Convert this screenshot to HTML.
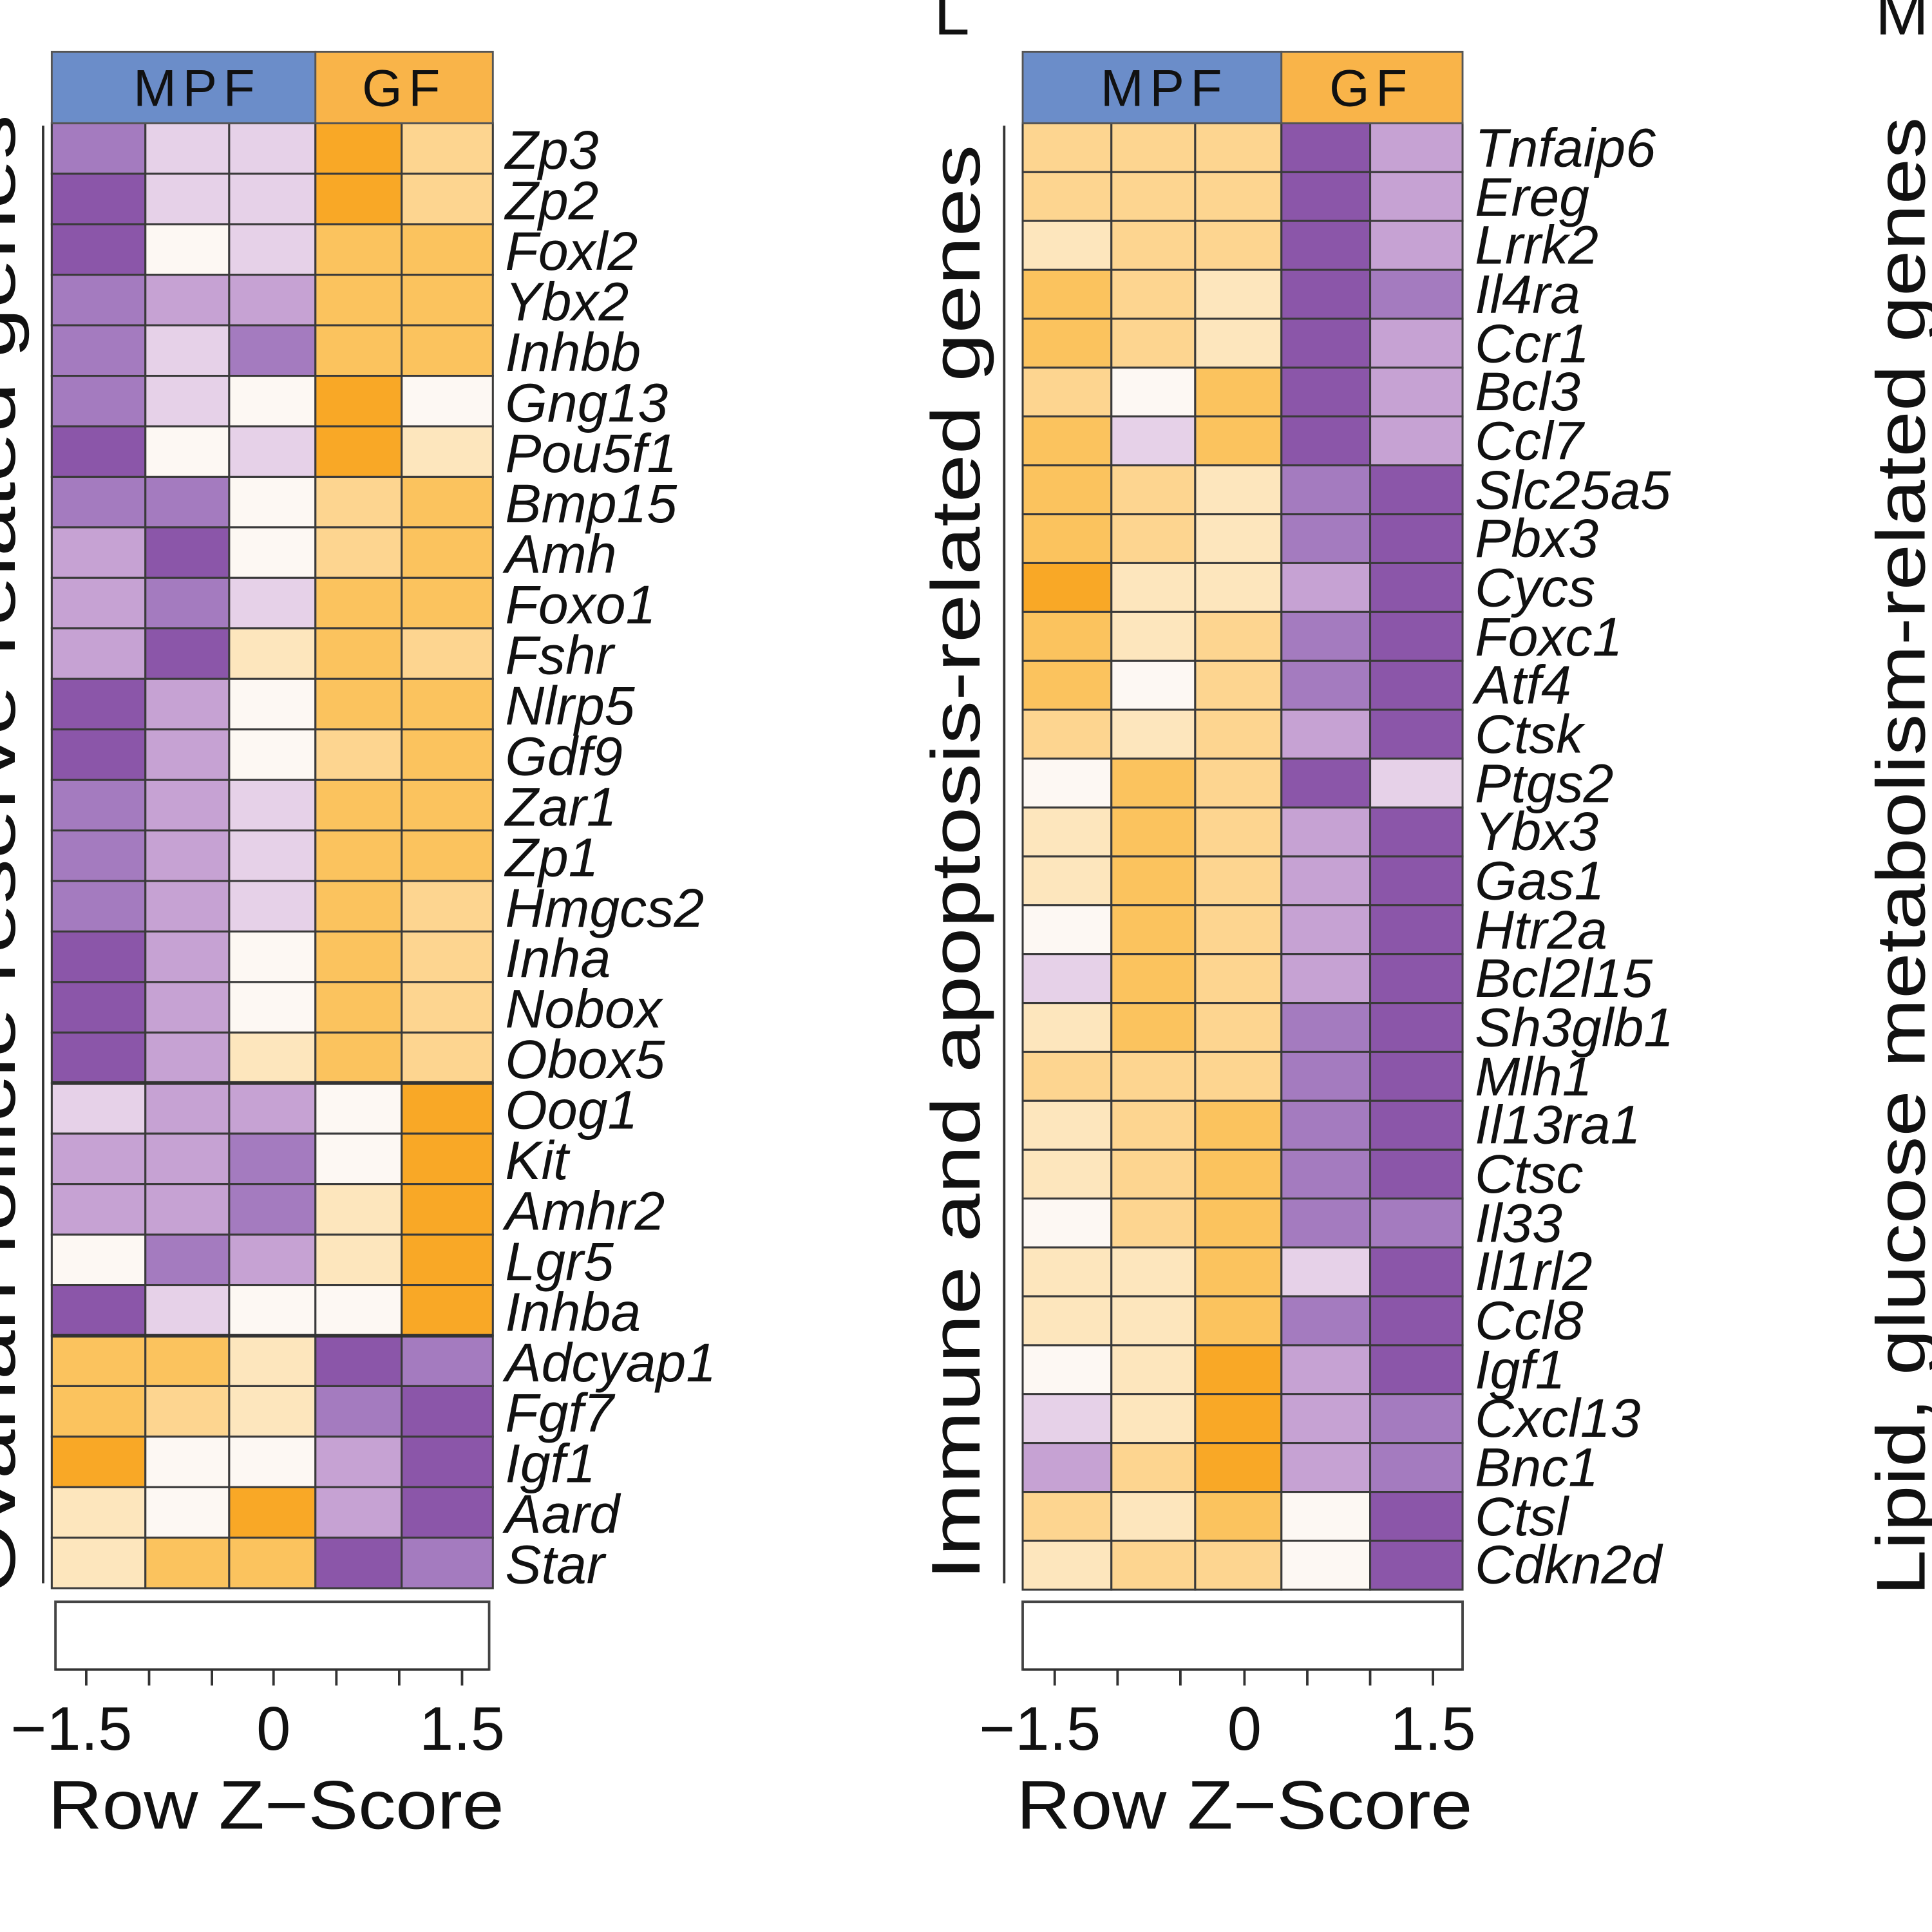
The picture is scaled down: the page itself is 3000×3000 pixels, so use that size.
<!DOCTYPE html>
<html><head><meta charset="utf-8"><style>
html,body{margin:0;padding:0;background:#fff;width:3000px;height:3000px;overflow:hidden}
svg{display:block}
text{font-family:"Liberation Sans",sans-serif;fill:#111}
.g{font-style:italic;font-size:44px}
</style></head><body>
<svg id="s" width="3000" height="3000" viewBox="0 0 1568 1568" xmlns="http://www.w3.org/2000/svg">
<g id="cells"></g>
<rect x="42" y="42" width="214" height="58" fill="#6b8dc9" stroke="#555" stroke-width="1.5"/>
<rect x="256" y="42" width="144" height="58" fill="#f9b449" stroke="#555" stroke-width="1.5"/>
<text x="160" y="86" font-size="42" text-anchor="middle" letter-spacing="5">MPF</text>
<text x="328" y="86" font-size="42" text-anchor="middle" letter-spacing="5">GF</text>
<rect x="830" y="42" width="210" height="58" fill="#6b8dc9" stroke="#555" stroke-width="1.5"/>
<rect x="1040" y="42" width="147" height="58" fill="#f9b449" stroke="#555" stroke-width="1.5"/>
<text x="945" y="86" font-size="42" text-anchor="middle" letter-spacing="5">MPF</text>
<text x="1113" y="86" font-size="42" text-anchor="middle" letter-spacing="5">GF</text>
<line x1="35" y1="102" x2="35" y2="1285" stroke="#333" stroke-width="2"/>
<line x1="815" y1="102" x2="815" y2="1285" stroke="#333" stroke-width="2"/>
<text transform="translate(12,693) rotate(-90)" font-size="56" text-anchor="middle" textLength="1200" lengthAdjust="spacingAndGlyphs">Ovarian follicle reserve-related genes</text>
<text transform="translate(795,700) rotate(-90)" font-size="56" text-anchor="middle" textLength="1165" lengthAdjust="spacingAndGlyphs">Immune and apoptosis-related genes</text>
<text transform="translate(1562,1295) rotate(-90)" font-size="56" text-anchor="start" textLength="1200" lengthAdjust="spacingAndGlyphs">Lipid, glucose metabolism-related genes</text>
<text x="758" y="28" font-size="52">L</text>
<text x="1522" y="28" font-size="52">M</text>
<rect x="45" y="1300" width="352" height="55" fill="#fff" stroke="#444" stroke-width="2"/>
<rect x="830" y="1300" width="357" height="55" fill="#fff" stroke="#444" stroke-width="2"/>
<g stroke="#333" stroke-width="2">
<line x1="45" y1="1355" x2="397" y2="1355"/>
<line x1="70" y1="1355" x2="70" y2="1368"/><line x1="121" y1="1355" x2="121" y2="1368"/><line x1="172" y1="1355" x2="172" y2="1368"/><line x1="222" y1="1355" x2="222" y2="1368"/><line x1="273" y1="1355" x2="273" y2="1368"/><line x1="324" y1="1355" x2="324" y2="1368"/><line x1="375" y1="1355" x2="375" y2="1368"/>
<line x1="830" y1="1355" x2="1187" y2="1355"/>
<line x1="856" y1="1355" x2="856" y2="1368"/><line x1="907" y1="1355" x2="907" y2="1368"/><line x1="958" y1="1355" x2="958" y2="1368"/><line x1="1010" y1="1355" x2="1010" y2="1368"/><line x1="1061" y1="1355" x2="1061" y2="1368"/><line x1="1112" y1="1355" x2="1112" y2="1368"/><line x1="1163" y1="1355" x2="1163" y2="1368"/>
</g>
<g font-size="50" text-anchor="middle">
<text x="58" y="1420">−1.5</text><text x="222" y="1420">0</text><text x="375" y="1420">1.5</text>
<text x="844" y="1420">−1.5</text><text x="1010" y="1420">0</text><text x="1163" y="1420">1.5</text>
<text x="224" y="1484" font-size="56" textLength="370" lengthAdjust="spacingAndGlyphs">Row Z−Score</text>
<text x="1010" y="1484" font-size="56" textLength="370" lengthAdjust="spacingAndGlyphs">Row Z−Score</text>
</g>
<text class="g" x="410" y="137">Zp3</text><text class="g" x="410" y="178">Zp2</text><text class="g" x="410" y="219">Foxl2</text><text class="g" x="410" y="260">Ybx2</text><text class="g" x="410" y="301">Inhbb</text><text class="g" x="410" y="342">Gng13</text><text class="g" x="410" y="383">Pou5f1</text><text class="g" x="410" y="424">Bmp15</text><text class="g" x="410" y="465">Amh</text><text class="g" x="410" y="506">Foxo1</text><text class="g" x="410" y="547">Fshr</text><text class="g" x="410" y="588">Nlrp5</text><text class="g" x="410" y="629">Gdf9</text><text class="g" x="410" y="670">Zar1</text><text class="g" x="410" y="711">Zp1</text><text class="g" x="410" y="752">Hmgcs2</text><text class="g" x="410" y="793">Inha</text><text class="g" x="410" y="834">Nobox</text><text class="g" x="410" y="875">Obox5</text><text class="g" x="410" y="916">Oog1</text><text class="g" x="410" y="957">Kit</text><text class="g" x="410" y="998">Amhr2</text><text class="g" x="410" y="1039">Lgr5</text><text class="g" x="410" y="1080">Inhba</text><text class="g" x="410" y="1121">Adcyap1</text><text class="g" x="410" y="1162">Fgf7</text><text class="g" x="410" y="1203">Igf1</text><text class="g" x="410" y="1244">Aard</text><text class="g" x="410" y="1285">Star</text>
<text class="g" x="1197" y="135">Tnfaip6</text><text class="g" x="1197" y="175">Ereg</text><text class="g" x="1197" y="214">Lrrk2</text><text class="g" x="1197" y="254">Il4ra</text><text class="g" x="1197" y="294">Ccr1</text><text class="g" x="1197" y="333">Bcl3</text><text class="g" x="1197" y="373">Ccl7</text><text class="g" x="1197" y="413">Slc25a5</text><text class="g" x="1197" y="452">Pbx3</text><text class="g" x="1197" y="492">Cycs</text><text class="g" x="1197" y="532">Foxc1</text><text class="g" x="1197" y="571">Atf4</text><text class="g" x="1197" y="611">Ctsk</text><text class="g" x="1197" y="651">Ptgs2</text><text class="g" x="1197" y="690">Ybx3</text><text class="g" x="1197" y="730">Gas1</text><text class="g" x="1197" y="770">Htr2a</text><text class="g" x="1197" y="809">Bcl2l15</text><text class="g" x="1197" y="849">Sh3glb1</text><text class="g" x="1197" y="889">Mlh1</text><text class="g" x="1197" y="928">Il13ra1</text><text class="g" x="1197" y="968">Ctsc</text><text class="g" x="1197" y="1008">Il33</text><text class="g" x="1197" y="1047">Il1rl2</text><text class="g" x="1197" y="1087">Ccl8</text><text class="g" x="1197" y="1127">Igf1</text><text class="g" x="1197" y="1166">Cxcl13</text><text class="g" x="1197" y="1206">Bnc1</text><text class="g" x="1197" y="1246">Ctsl</text><text class="g" x="1197" y="1285">Cdkn2d</text>
</svg>
<script>
var C={P3:"#8b56a9",P2:"#a47bbf",P1:"#c6a2d3",P0:"#e6d1e8",W:"#fdf8f3",Y0:"#fde6bd",Y1:"#fdd590",Y2:"#fbc35e",Y3:"#f9a826"};
var L=["P2 P0 P0 Y3 Y1","P3 P0 P0 Y3 Y1","P3 W P0 Y2 Y2","P2 P1 P1 Y2 Y2","P2 P0 P2 Y2 Y2","P2 P0 W Y3 W","P3 W P0 Y3 Y0","P2 P2 W Y1 Y2","P1 P3 W Y1 Y2","P1 P2 P0 Y2 Y2","P1 P3 Y0 Y2 Y1","P3 P1 W Y2 Y2","P3 P1 W Y1 Y2","P2 P1 P0 Y2 Y2","P2 P1 P0 Y2 Y2","P2 P1 P0 Y2 Y1","P3 P1 W Y2 Y1","P3 P1 W Y2 Y1","P3 P1 Y0 Y2 Y1","P0 P1 P1 W Y3","P1 P1 P2 W Y3","P1 P1 P2 Y0 Y3","W P2 P1 Y0 Y3","P3 P0 W W Y3","Y2 Y2 Y0 P3 P2","Y2 Y1 Y0 P2 P3","Y3 W W P1 P3","Y0 W Y3 P1 P3","Y0 Y2 Y2 P3 P2"];
var R=["Y1 Y1 Y1 P3 P1","Y1 Y1 Y1 P3 P1","Y0 Y1 Y1 P3 P1","Y2 Y1 Y0 P3 P2","Y2 Y1 Y0 P3 P1","Y1 W Y2 P3 P1","Y2 P0 Y2 P3 P1","Y2 Y1 Y0 P2 P3","Y2 Y1 Y0 P2 P3","Y3 Y0 Y0 P1 P3","Y2 Y0 Y1 P2 P3","Y2 W Y1 P2 P3","Y1 Y0 Y1 P1 P3","W Y2 Y1 P3 P0","Y0 Y2 Y1 P1 P3","Y0 Y2 Y1 P1 P3","W Y2 Y1 P1 P3","P0 Y2 Y1 P1 P3","Y0 Y2 Y1 P2 P3","Y1 Y1 Y1 P2 P3","Y0 Y1 Y2 P2 P3","Y0 Y1 Y2 P2 P3","W Y1 Y2 P2 P2","Y0 Y0 Y2 P0 P3","Y0 Y0 Y2 P2 P3","W Y0 Y3 P1 P3","P0 Y0 Y3 P1 P2","P1 Y1 Y3 P1 P2","Y1 Y0 Y2 W P3","Y0 Y1 Y1 W P3"];
var g=document.getElementById("cells"),h="";
function draw(M,xs,y0,rh){for(var i=0;i<M.length;i++){var a=M[i].split(" ");for(var j=0;j<5;j++){h+='<rect x="'+xs[j]+'" y="'+(y0+i*rh).toFixed(1)+'" width="'+(xs[j+1]-xs[j])+'" height="'+rh.toFixed(1)+'" fill="'+C[a[j]]+'" stroke="#3a3a3a" stroke-width="1.6"/>';}}}
draw(L,[42,118,186,256,326,400],100,41);
draw(R,[830,902,970,1040,1112,1187],100,39.67);
h+='<line x1="42" y1="879" x2="400" y2="879" stroke="#333" stroke-width="3"/><line x1="42" y1="1084" x2="400" y2="1084" stroke="#333" stroke-width="3"/>';
g.innerHTML=h;
</script>
</body></html>
